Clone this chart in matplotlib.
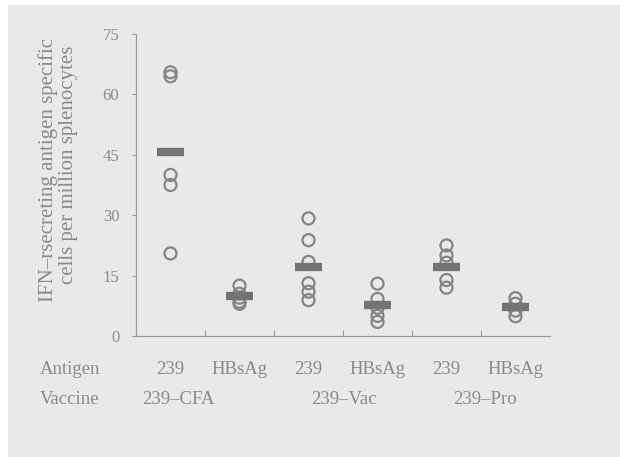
import matplotlib
matplotlib.use("Agg")
import matplotlib.pyplot as plt
import matplotlib.transforms as mtrans
import numpy as np
from matplotlib.patches import Rectangle

antigens = ["239", "HBsAg", "239", "HBsAg", "239", "HBsAg"]
vaccines = ["239\u2013CFA", "239\u2013Vac", "239\u2013Pro"]
values = [
    [65.5, 64.5, 40.0, 37.5, 20.5],
    [12.5, 10.5, 9.5, 8.5, 8.0],
    [29.2, 23.8, 18.4, 13.1, 11.0, 8.9],
    [13.0, 9.2, 7.0, 5.0, 3.5],
    [22.5, 20.0, 18.2, 13.9, 12.0],
    [9.4, 8.0, 6.3, 4.9],
]
means = [45.7, 9.9, 17.2, 7.7, 17.2, 7.1]
yticks = [0, 15, 30, 45, 60, 75]

txt = "#8a8a8a"
mark = "#858585"
bg = "#e9e9e9"

plt.rcParams["font.family"] = ["Liberation Serif", "DejaVu Serif"]

fig = plt.figure(figsize=(6.2, 4.57), dpi=100, facecolor="white")
fig.patches.append(Rectangle((8 / 620, 0), 1, 1 - 5 / 457, transform=fig.transFigure,
                             facecolor=bg, edgecolor="none", zorder=-10))
ax = fig.add_axes([136 / 620, 1 - 336 / 457, (550 - 136) / 620, (336 - 34) / 457])
ax.set_facecolor("none")

for i, vals in enumerate(values):
    ax.scatter([i] * len(vals), vals, s=75, facecolors="none", edgecolors=mark,
               linewidths=1.6, zorder=3)
    ax.plot([i - 0.19, i + 0.19], [means[i], means[i]], color="#747474",
            linewidth=6, solid_capstyle="butt", zorder=4)

ax.set_xlim(-0.5, 5.5)
ax.set_ylim(0, 75)
ax.spines["top"].set_visible(False)
ax.spines["right"].set_visible(False)
for s in ["left", "bottom"]:
    ax.spines[s].set_color("#9a9a9a")
    ax.spines[s].set_linewidth(0.9)

ax.set_yticks(yticks)
ax.set_yticklabels([str(t) for t in yticks], fontsize=12, color=txt)
ax.tick_params(axis="y", direction="out", length=3, color="#9a9a9a", pad=9)
ax.set_xticks(np.arange(0.5, 5.0, 1.0))
ax.set_xticklabels([])
ax.tick_params(axis="x", direction="in", length=4, color="#9a9a9a")

fig.text(48 / 620, 1 - 170 / 457, "IFN\u2013rsecreting antigen specific", rotation=90,
         ha="center", va="center", fontsize=15, color=txt)
fig.text(69 / 620, 1 - 165 / 457, "cells per million splenocytes", rotation=90,
         ha="center", va="center", fontsize=15, color=txt)

ylab1 = 1 - 370 / 457
ylab2 = 1 - 400 / 457
fig.text(40 / 620, ylab1, "Antigen", ha="left", va="center", fontsize=13.5, color=txt)
fig.text(40 / 620, ylab2, "Vaccine", ha="left", va="center", fontsize=13.5, color=txt)
blend = mtrans.blended_transform_factory(ax.transData, fig.transFigure)
for i, a in enumerate(antigens):
    ax.text(i, ylab1, a, transform=blend, ha="center", va="center",
            fontsize=13.5, color=txt)
vx = [0.12, 2.52, 4.56]
for x, v in zip(vx, vaccines):
    ax.text(x, ylab2, v, transform=blend, ha="center", va="center",
            fontsize=13.5, color=txt)

fig.savefig("out.png", dpi=100, facecolor=fig.get_facecolor())
